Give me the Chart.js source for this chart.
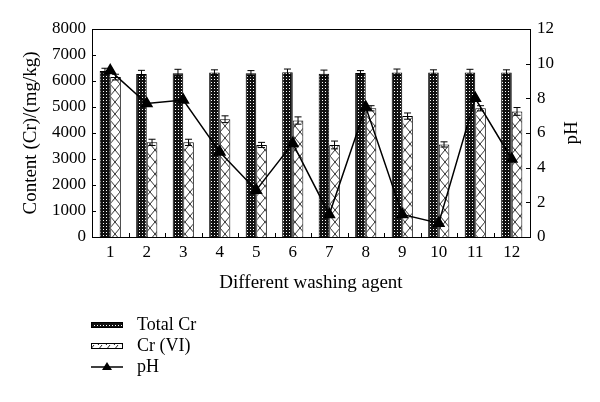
<!DOCTYPE html>
<html>
<head>
<meta charset="utf-8">
<script src="https://cdn.jsdelivr.net/npm/chart.js@4"></script>
<style>
  body { margin: 0; background: #fff; }
  #wrap { width: 600px; height: 402px; }
</style>
</head>
<body>
<div id="wrap"><canvas id="washing" width="600" height="402"></canvas></div>
<script>
// values
const agents = ['1', '2', '3', '4', '5', '6', '7', '8', '9', '10', '11', '12'];
const totalCr = [6380, 6270, 6300, 6330, 6300, 6340, 6280, 6310, 6330, 6330, 6330, 6330];
const totalCrErr = [110, 140, 150, 100, 100, 120, 140, 90, 130, 100, 120, 100];
const cr6 = [6150, 3640, 3640, 4530, 3540, 4480, 3540, 4950, 4650, 3560, 4950, 4830];
const cr6Err = [110, 120, 120, 130, 100, 140, 150, 100, 120, 100, 100, 150];
const pH = [9.6, 7.7, 7.9, 4.9, 2.7, 5.4, 1.3, 7.5, 1.3, 0.8, 8.0, 4.5];

const serif = '"Liberation Serif", "DejaVu Serif", serif';

function dotPattern() {
    const c = document.createElement('canvas');
    c.width = 3; c.height = 3;
    const g = c.getContext('2d');
    g.fillStyle = '#111';
    g.fillRect(0, 0, 3, 3);
    g.fillStyle = '#fff';
    g.fillRect(1, 1, 1, 1);
    return g.createPattern(c, 'repeat');
}

function hatchPattern() {
    const c = document.createElement('canvas');
    c.width = 10; c.height = 12;
    const g = c.getContext('2d');
    g.fillStyle = '#fff';
    g.fillRect(0, 0, 10, 12);
    g.strokeStyle = '#333';
    g.lineWidth = 1;
    g.beginPath();
    g.moveTo(0, 0); g.lineTo(10, 12);
    g.moveTo(10, 0); g.lineTo(0, 12);
    g.stroke();
    return g.createPattern(c, 'repeat');
}

function slashPattern() {
    const c = document.createElement('canvas');
    c.width = 8; c.height = 5;
    const g = c.getContext('2d');
    g.fillStyle = '#fff';
    g.fillRect(0, 0, 8, 5);
    g.strokeStyle = '#222';
    g.beginPath();
    g.moveTo(2, 5); g.lineTo(6, 0);
    g.stroke();
    return g.createPattern(c, 'repeat');
}

const totalFill = dotPattern();
const cr6Fill = hatchPattern();
const errs = [totalCrErr, cr6Err];

const extras = {
    id: 'extras',
    afterDatasetDraw(chart, args) {
        if (args.index > 1) return;
        const ctx = chart.ctx;
        const y = chart.scales.y;
        const vals = chart.data.datasets[args.index].data;
        const e = errs[args.index];
        ctx.save();
        ctx.strokeStyle = '#000';
        ctx.lineWidth = 1;
        args.meta.data.forEach(function(bar, i) {
            const top = y.getPixelForValue(vals[i] + e[i]);
            const bot = y.getPixelForValue(vals[i] - e[i]);
            ctx.beginPath();
            ctx.moveTo(bar.x, top); ctx.lineTo(bar.x, bot);
            ctx.moveTo(bar.x - 3.5, top); ctx.lineTo(bar.x + 3.5, top);
            ctx.moveTo(bar.x - 3.5, bot); ctx.lineTo(bar.x + 3.5, bot);
            ctx.stroke();
        });
        ctx.restore();
    },
    afterDraw(chart) {
        const ctx = chart.ctx;
        const a = chart.chartArea;
        const x = chart.scales.x, y = chart.scales.y, y1 = chart.scales.y1;
        ctx.save();
        ctx.strokeStyle = '#000';
        ctx.lineWidth = 1;
        ctx.beginPath();
        // top frame
        ctx.moveTo(a.left, a.top + 0.5); ctx.lineTo(a.right, a.top + 0.5);
        // inward ticks
        y.ticks.forEach(function(t) {
            const p = Math.round(y.getPixelForValue(t.value)) + 0.5;
            ctx.moveTo(a.left, p); ctx.lineTo(a.left + 4, p);
        });
        y1.ticks.forEach(function(t) {
            const p = Math.round(y1.getPixelForValue(t.value)) + 0.5;
            ctx.moveTo(a.right - 4, p); ctx.lineTo(a.right, p);
        });
        for (let i = 1; i < agents.length; i++) {
            const p = Math.round(x.getPixelForValue(i - 0.5)) + 0.5;
            ctx.moveTo(p, a.bottom); ctx.lineTo(p, a.bottom - 4);
        }
        ctx.stroke();

        ctx.font = '19px ' + serif;
        ctx.fillStyle = '#000';
        ctx.textBaseline = 'middle';
        ctx.textAlign = 'center';

        // right axis title reads bottom-to-top in the original
        ctx.save();
        ctx.translate(572, (a.top + a.bottom) / 2);
        ctx.rotate(-Math.PI / 2);
        ctx.fillText('pH', 0, 0);
        ctx.restore();

        // legend, stacked at bottom left
        const rows = [325, 346, 367];
        ctx.font = '18px ' + serif;
        ctx.textAlign = 'left';

        ctx.fillStyle = totalFill;
        ctx.fillRect(91, rows[0] - 2.5, 32, 5);
        ctx.strokeRect(91.5, rows[0] - 2.5, 31, 5);
        ctx.fillStyle = slashPattern();
        ctx.fillRect(91, rows[1] - 2.5, 32, 5);
        ctx.strokeRect(91.5, rows[1] - 2.5, 31, 5);

        ctx.lineWidth = 1.5;
        ctx.beginPath();
        ctx.moveTo(91, rows[2]); ctx.lineTo(123, rows[2]);
        ctx.stroke();
        ctx.fillStyle = '#000';
        ctx.beginPath();
        ctx.moveTo(107, rows[2] - 5); ctx.lineTo(112, rows[2] + 3); ctx.lineTo(102, rows[2] + 3);
        ctx.closePath();
        ctx.fill();

        chart.data.datasets.forEach(function(ds) {
            ctx.fillText(ds.label, 137, rows[ds.legendRow]);
        });
        ctx.restore();
    }
};

document.addEventListener('DOMContentLoaded', function() {
    const ctx = document.getElementById('washing').getContext('2d');

    new Chart(ctx, {
        type: 'bar',
        data: {
            labels: agents,
            datasets: [{
                label: 'Total Cr',
                legendRow: 0,
                data: totalCr,
                backgroundColor: totalFill,
                borderColor: '#000',
                borderWidth: 1,
                yAxisID: 'y',
                order: 1
            }, {
                label: 'Cr (VI)',
                legendRow: 1,
                data: cr6,
                backgroundColor: cr6Fill,
                borderColor: '#000',
                borderWidth: 1,
                yAxisID: 'y',
                order: 1
            }, {
                type: 'line',
                label: 'pH',
                legendRow: 2,
                data: pH,
                borderColor: '#000',
                backgroundColor: '#000',
                borderWidth: 1.5,
                pointStyle: 'triangle',
                pointRadius: 6,
                yAxisID: 'y1',
                order: 0
            }]
        },
        options: {
            responsive: false,
            animation: false,
            devicePixelRatio: 1,
            layout: { padding: { left: 17, right: 14, top: 29, bottom: 105 } },
            datasets: {
                bar: { categoryPercentage: 0.58, barPercentage: 1.0 }
            },
            plugins: {
                legend: { display: false },
                tooltip: { enabled: false }
            },
            scales: {
                x: {
                    grid: { display: false, drawTicks: false },
                    border: { color: '#000', width: 1 },
                    ticks: { color: '#000', font: { family: serif, size: 17 }, padding: 5 },
                    title: {
                        display: true,
                        text: 'Different washing agent',
                        color: '#000',
                        font: { family: serif, size: 19 },
                        padding: { top: 4, bottom: 3 }
                    },
                    afterFit: function(s) { s.height = 60; }
                },
                y: {
                    position: 'left',
                    min: 0, max: 8000,
                    grid: { display: false, drawTicks: false },
                    border: { color: '#000', width: 1 },
                    ticks: {
                        stepSize: 1000, color: '#000', padding: 6,
                        font: { family: serif, size: 17 },
                        callback: function(v) { return String(v); }
                    },
                    title: {
                        display: true,
                        text: 'Content (Cr)/(mg/kg)',
                        color: '#000',
                        font: { family: serif, size: 19 },
                        padding: { top: 3, bottom: 4 }
                    },
                    afterFit: function(s) { s.width = 75; }
                },
                y1: {
                    position: 'right',
                    min: 0, max: 12,
                    grid: { display: false, drawTicks: false },
                    border: { color: '#000', width: 1 },
                    ticks: { stepSize: 2, color: '#000', font: { family: serif, size: 17 }, padding: 7 },
                    afterFit: function(s) { s.width = 56; }
                }
            }
        },
        plugins: [extras]
    });
});
</script>
</body>
</html>
